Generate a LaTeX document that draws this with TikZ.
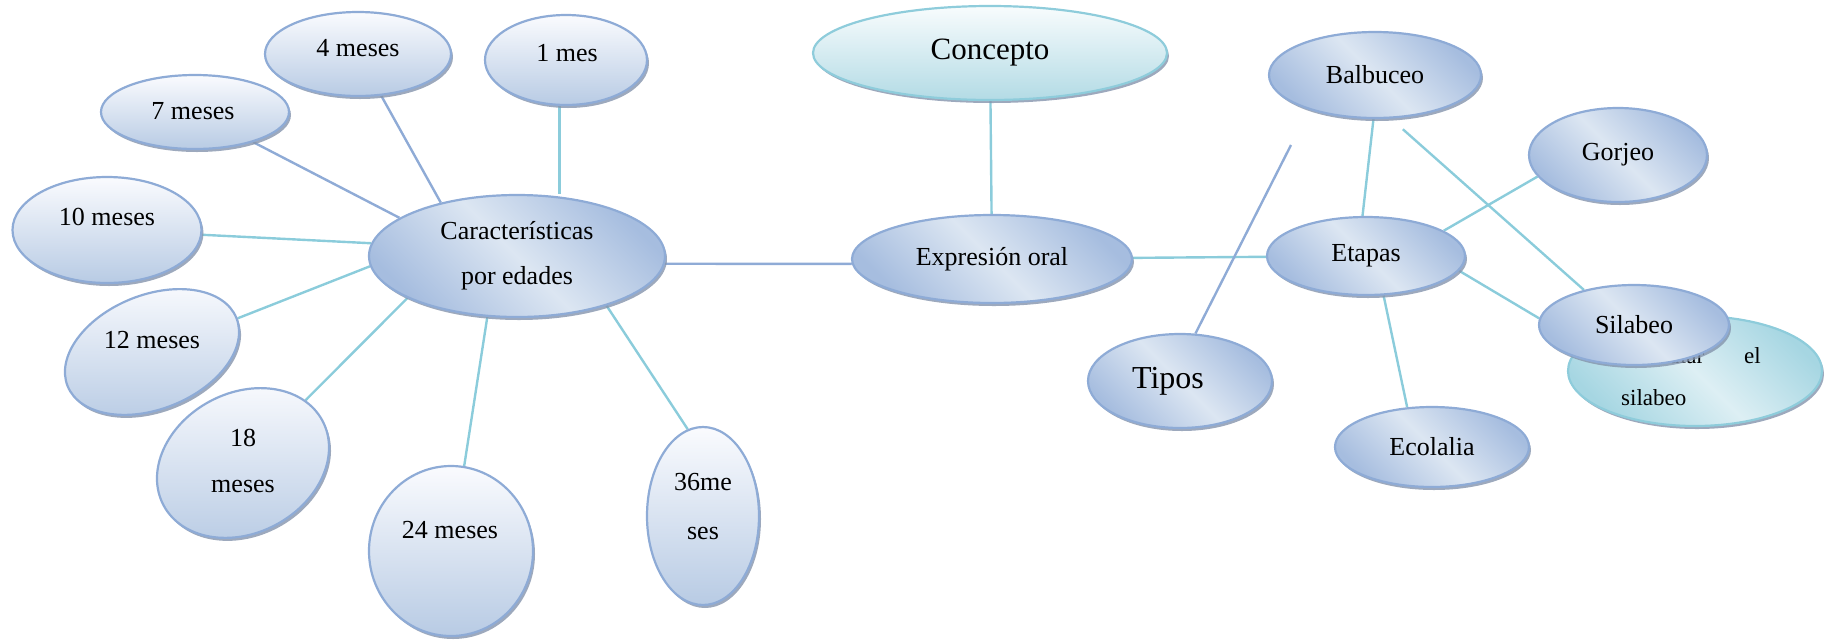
\documentclass[tikz,border=0pt]{standalone}
\usepackage{fontspec}
\setmainfont{Liberation Serif}
\usepackage{xcolor}
\usetikzlibrary{shapes.geometric,shadows,backgrounds}

\definecolor{rim}{HTML}{8EABD6}
\definecolor{cyanline}{HTML}{8BCCDB}
\definecolor{steelline}{HTML}{8FABD6}
\definecolor{bubtop}{HTML}{FAFBFE}
\definecolor{bubbot}{HTML}{B8CBE4}
\definecolor{midlight}{HTML}{DCE6F2}
\definecolor{middark}{HTML}{A6BDDF}
\definecolor{tealrim}{HTML}{8ECCDB}
\definecolor{tealtop}{HTML}{F8FCFD}
\definecolor{tealbot}{HTML}{B3DBE5}
\definecolor{teallight}{HTML}{DDEFF4}
\definecolor{tealdark}{HTML}{A6D6E2}
\definecolor{shadowgray}{HTML}{8494AC}

\begin{document}
\begin{tikzpicture}[x=1pt, y=-1pt,
			bubble/.style={ellipse, draw=rim, line width=2.2pt, inner sep=0pt,
					top color=bubtop, bottom color=bubbot,
					drop shadow={shadow xshift=2pt, shadow yshift=-3pt, fill=shadowgray, opacity=0.8}},
			hub/.style={ellipse, draw=rim, line width=2.2pt, inner sep=0pt, align=center,
					top color=middark, bottom color=middark, middle color=midlight, shading angle=-45,
					font=\fontsize{26}{45}\selectfont,
					drop shadow={shadow xshift=2pt, shadow yshift=-3pt, fill=shadowgray, opacity=0.8}},
			idea/.style={ellipse, draw=tealrim, line width=2.2pt, inner sep=0pt,
					top color=tealtop, bottom color=tealbot,
					drop shadow={shadow xshift=2pt, shadow yshift=-3pt, fill=shadowgray, opacity=0.8}},
			lbl/.style={inner sep=0pt, align=center, font=\fontsize{26}{46}\selectfont},
			cyanc/.style={draw=cyanline, line width=2.4pt},
			steel/.style={draw=steelline, line width=2.4pt}
		]
		\useasboundingbox (0,0) rectangle (1831,641);

		% centre
		\node[idea, minimum width=354, minimum height=94, font=\fontsize{31}{38}\selectfont] (conc) at (990,53) {Concepto};
		\node[hub, minimum width=280, minimum height=88] (expr) at (992,259) {Expresión oral};
		\node[hub, minimum width=296, minimum height=122] (car) at (517,256) {Características\\por edades};

		% edades
		\node[bubble, minimum width=186, minimum height=84] (m4) at (358,54) {};
		\node[lbl] (t4) at (358,48) {4 meses};
		\node[bubble, minimum width=162, minimum height=90] (m1) at (566,60) {};
		\node[lbl] (t1) at (567,53) {1 mes};
		\node[bubble, minimum width=188, minimum height=74] (m7) at (195,112) {};
		\node[lbl] (t7) at (193,111) {7 meses};
		\node[bubble, minimum width=189, minimum height=106] (m10) at (107,230) {};
		\node[lbl] (t10) at (107,217) {10 meses};
		\node[bubble, minimum width=182, minimum height=114, rotate=22] (m12) at (152,352) {};
		\node[lbl] (t12) at (152,340) {12 meses};
		\node[bubble, minimum width=180, minimum height=140, rotate=28] (m18) at (243,463) {};
		\node[lbl] (t18) at (243,461) {18\\meses};
		\node[bubble, minimum width=164, minimum height=170] (m24) at (451,551) {};
		\node[lbl] (t24) at (450,530) {24 meses};
		\node[bubble, minimum width=112, minimum height=178] (m36) at (703,516) {};
		\node[lbl, font=\fontsize{26}{49}\selectfont] (t36) at (703,507) {36me\\ses};

		% etapas
		\node[hub, minimum width=212, minimum height=86] (bal) at (1375,75) {Balbuceo};
		\node[hub, minimum width=198, minimum height=78] (eta) at (1366,256) {Etapas};
		\node[hub, minimum width=184, minimum height=94, font=\fontsize{32}{38}\selectfont] (tip) at (1180,381) {Tipos\hspace{24pt}};
		\node[hub, minimum width=194, minimum height=80] (eco) at (1432,447) {Ecolalia};
		\node[hub, minimum width=178, minimum height=94] (gor) at (1618,155) {Gorjeo};
		\node[idea, minimum width=254, minimum height=110, top color=tealdark, bottom color=tealdark,
			middle color=teallight, shading angle=-45] (art) at (1695,371) {};
		\node[lbl, anchor=west, font=\fontsize{23}{42}\selectfont, align=left] (tart) at (1621,377) {Articular\hspace{40pt}el\\silabeo};
		\node[hub, minimum width=190, minimum height=80] (sil) at (1634,325) {Silabeo};

		\coordinate (tipend) at (1291,145);

		\begin{scope}[on background layer]
			\draw[steel] (m4) -- (car.145);
			\draw[steel] (m7) -- (car.162);
			\draw[cyanc] (m10) -- (car.175);
			\draw[cyanc] (m12) -- (car.184);
			\draw[cyanc] (m18) -- (car.201);
			\draw[cyanc] (m24) -- (car.244);
			\draw[cyanc] (m36.100) -- (car.-29);
			\draw[cyanc] (m1.262) -- (m1.262 |- car.north);
			\draw[steel] (car.-3) -- (expr.182);
			\draw[cyanc] (conc) -- (expr);
			\draw[cyanc] (expr) -- (eta);
			\draw[steel] (tip.72) -- (tipend);
			\draw[cyanc] (bal.-92) -- (eta.95);
			\draw[cyanc, shorten <=16pt] (bal.-70) -- (sil.145);
			\draw[cyanc] (eta.18) -- (gor.-165);
			\draw[cyanc] (eta.-9) -- (sil.176);
			\draw[cyanc] (eta.-66) -- (eco.122);
		\end{scope}

	\end{tikzpicture}
\end{document}
